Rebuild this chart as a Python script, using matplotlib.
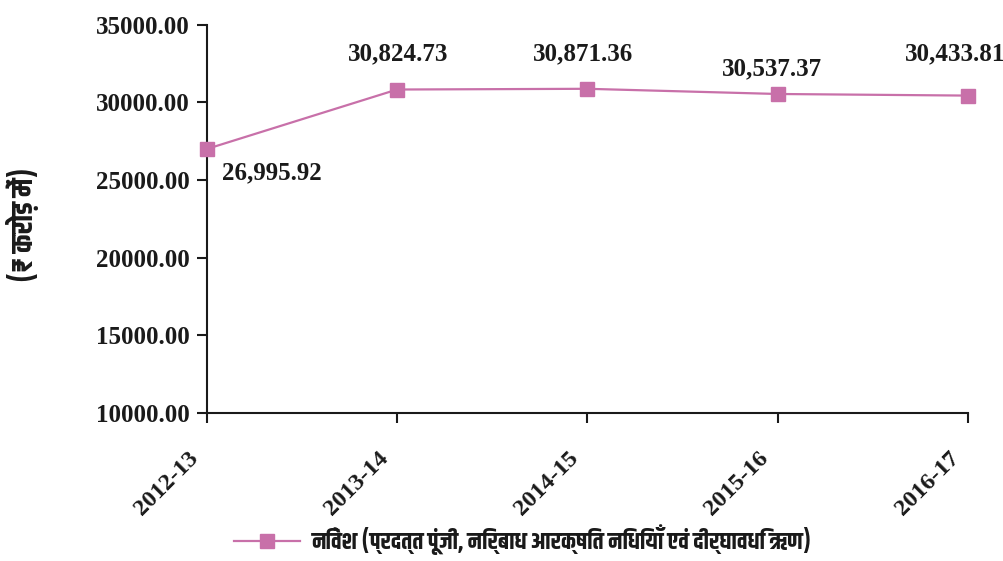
"""Investment trend line chart (Hindi labels), 2012-13 to 2016-17."""

import matplotlib

matplotlib.use("Agg")

import matplotlib.pyplot as plt
import matplotlib.transforms as mtransforms
import numpy as np
from matplotlib import font_manager


YEARS = ["2012-13", "2013-14", "2014-15", "2015-16", "2016-17"]
INVESTMENT = [26995.92, 30824.73, 30871.36, 30537.37, 30433.81]

SERIES_LABEL = "निवेश (प्रदत्त पूंजी, निर्बाध आरक्षित निधियाँ एवं दीर्घावधि ऋण)"
Y_LABEL = "(₹ करोड़ में)"

Y_TICKS = [10000, 15000, 20000, 25000, 30000, 35000]

# label offsets in points (dx, dy) relative to each marker
LABEL_OFFSETS = [(47, -17), (1, 26), (-3, 25), (-4, 18), (-9, 30)]

LINE_COLOR = "#c870a9"
TEXT_COLOR = "#1a1a1a"

DEVANAGARI_CHOICES = ["Khand", "Pragati Narrow", "Hind", "Mukta",
                      "Noto Sans Devanagari", "FreeSans"]


def pick_devanagari_font() -> str:
    """Pick the first preferred Devanagari family that is installed."""

    installed = {entry.name for entry in font_manager.fontManager.ttflist}
    for name in DEVANAGARI_CHOICES:
        if name in installed:
            return name
    return "DejaVu Sans"


def main() -> None:
    deva = pick_devanagari_font()
    hindi_family = [deva, "Noto Sans", "DejaVu Sans"]
    serif = "Liberation Serif"

    figure = plt.figure(figsize=(10.04, 5.61), dpi=100)
    axis = figure.add_axes([0.206, 0.264, 0.758, 0.692])

    x_positions = np.arange(len(YEARS))

    axis.plot(
        x_positions,
        INVESTMENT,
        color=LINE_COLOR,
        linewidth=1.6,
        marker="s",
        markersize=10,
        label=SERIES_LABEL,
        clip_on=False,
        zorder=3,
    )

    for x, value, (dx, dy) in zip(x_positions, INVESTMENT, LABEL_OFFSETS):
        axis.annotate(
            f"{value:,.2f}",
            xy=(x, value),
            xytext=(dx, dy),
            textcoords="offset points",
            ha="center",
            va="center",
            fontsize=18,
            fontweight="bold",
            family=serif,
            color=TEXT_COLOR,
        )

    axis.set_xlim(0, len(YEARS) - 1)
    axis.set_ylim(Y_TICKS[0], Y_TICKS[-1])
    axis.set_yticks(Y_TICKS)
    axis.set_yticklabels(
        [f"{tick:.2f}" for tick in Y_TICKS],
        fontsize=18,
        fontweight="bold",
        family=serif,
        color=TEXT_COLOR,
    )

    # year labels drawn by hand so they can sit low and left of each tick
    axis.set_xticks(x_positions)
    axis.set_xticklabels([])
    year_transform = mtransforms.blended_transform_factory(
        axis.transData, axis.transAxes
    ) + mtransforms.ScaledTranslation(-14 / 72, -25 / 72,
                                      figure.dpi_scale_trans)
    for x, year in zip(x_positions, YEARS):
        axis.text(
            x,
            0,
            year,
            transform=year_transform,
            rotation=45,
            ha="right",
            va="top",
            rotation_mode="anchor",
            fontsize=17.5,
            fontweight="bold",
            family=serif,
            color=TEXT_COLOR,
            clip_on=False,
        )

    for side in ("top", "right"):
        axis.spines[side].set_visible(False)
    for side in ("left", "bottom"):
        axis.spines[side].set_linewidth(1.5)
        axis.spines[side].set_color(TEXT_COLOR)

    axis.tick_params(axis="both", direction="out", length=7, width=1.5,
                     colors=TEXT_COLOR)
    axis.tick_params(axis="y", pad=5)

    figure.text(
        0.022,
        0.6,
        Y_LABEL,
        rotation=90,
        ha="center",
        va="center",
        fontsize=21,
        fontweight="bold",
        family=hindi_family,
        color=TEXT_COLOR,
    )

    legend = figure.legend(
        loc="lower center",
        bbox_to_anchor=(0.521, -0.028),
        frameon=False,
        handlelength=2.8,
        handletextpad=0.5,
        prop={"family": hindi_family, "size": 17, "weight": "bold"},
    )
    for text in legend.get_texts():
        text.set_color(TEXT_COLOR)

    figure.savefig("out.png", dpi=100)
    plt.close(figure)


if __name__ == "__main__":
    main()
